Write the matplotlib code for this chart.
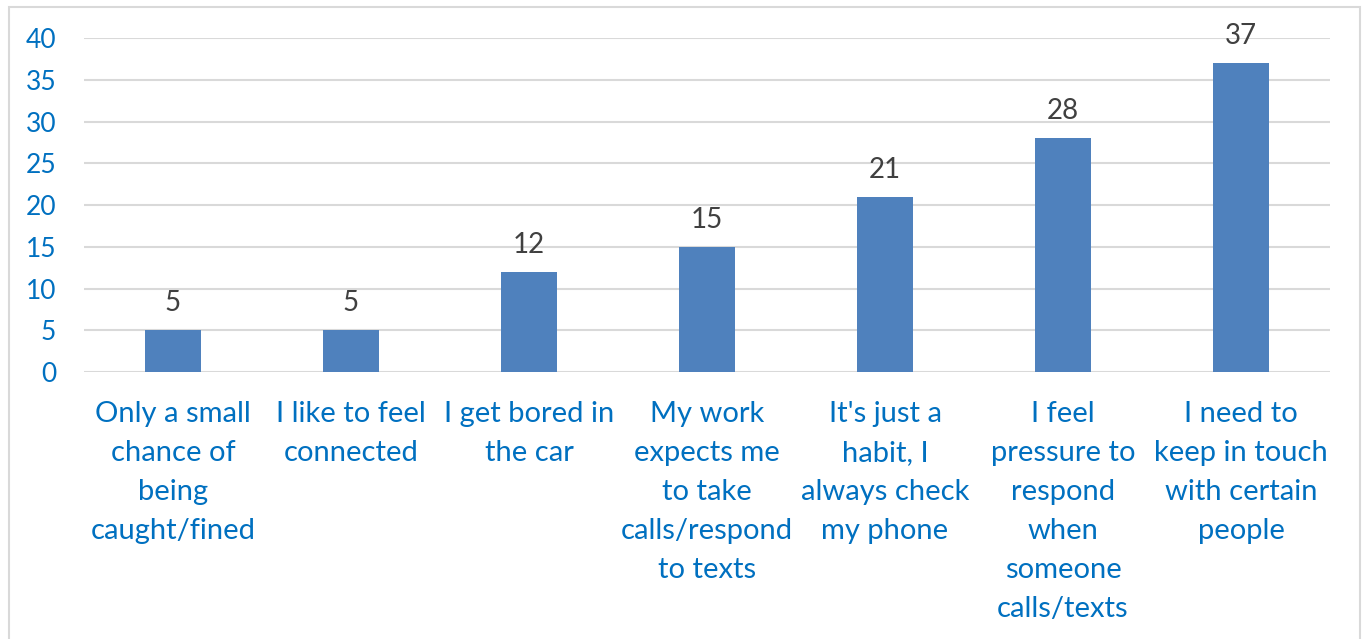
# Bar chart: reasons for using the phone while driving
import matplotlib.pyplot as plt
from matplotlib.patches import Rectangle

categories = ['Only a small\nchance of\nbeing\ncaught/fined',
              'I like to feel\nconnected',
              'I get bored in\nthe car',
              'My work\nexpects me\nto take\ncalls/respond\nto texts',
              "It's just a\nhabit, I\nalways check\nmy phone",
              'I feel\npressure to\nrespond\nwhen\nsomeone\ncalls/texts',
              'I need to\nkeep in touch\nwith certain\npeople']
values = [5, 5, 12, 15, 21, 28, 37]
yticks = [0, 5, 10, 15, 20, 25, 30, 35, 40]

plt.rcParams['font.family'] = ['Lato', 'DejaVu Sans']
blue_text = '#0070C0'

fig = plt.figure(figsize=(13.65, 6.39), dpi=100)
ax = fig.add_axes([0.0615, 0.4178, 0.9129, 0.5227])

xs = range(len(categories))
bars = ax.bar(xs, values, width=0.31, color='#4F81BD', zorder=3)
for x, v in zip(xs, values):
    ax.annotate(str(v), (x, v), xytext=(0, 10), textcoords='offset points',
                ha='center', va='bottom', fontsize=20, color='#404040')

ax.set_xlim(-0.5, len(categories) - 0.5)
ax.set_ylim(0, 40)
ax.set_yticks(yticks)
ax.set_xticks(list(xs))
ax.set_xticklabels(categories, fontsize=21, color=blue_text, linespacing=1.62)
ax.tick_params(axis='y', labelsize=19, labelcolor=blue_text, length=0, pad=20)
ax.tick_params(axis='x', length=0, pad=21)
ax.yaxis.grid(True, color='#D9D9D9', linewidth=1.5, zorder=0)
for s in ax.spines.values():
    s.set_visible(False)

# outer chart border (runs off the bottom edge like the original crop)
fig.patches.append(Rectangle((9 / 1365, -10 / 639), 1351 / 1365, 642 / 639,
                             transform=fig.transFigure, fill=False,
                             edgecolor='#D9D9D9', linewidth=1.5))

fig.savefig('out.png', dpi=100)
